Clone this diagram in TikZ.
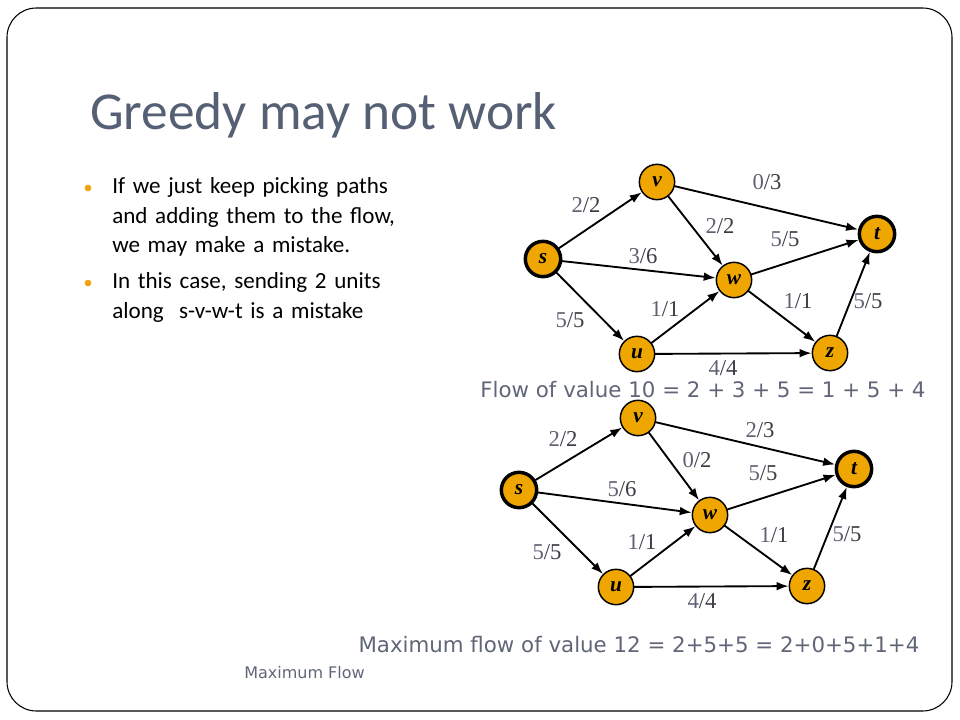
\documentclass[tikz,border=0pt]{standalone}
\usepackage{fontspec}
\setmainfont{Carlito}
\newfontfamily\graphfont{Liberation Serif}
\newfontfamily\flowfont{DejaVu Sans}
\usetikzlibrary {arrows.meta}

\definecolor{titlegray}{RGB}{86,96,117}
\definecolor{nodeorange}{RGB}{240,166,0}
\definecolor{bulletorange}{RGB}{240,163,10}
\definecolor{flowgray}{RGB}{94,98,114}
\definecolor{capgray}{RGB}{60,60,68}
\definecolor{textgray}{RGB}{96,102,120}

\newcommand{\fc}[2]{\textcolor{flowgray}{#1}\textcolor{capgray}{/#2}}

\tikzset{
  vertex/.style = {circle, draw, line width=1.1pt, fill=nodeorange, minimum size=26.5pt, inner sep=0pt,
                   font=\graphfont\bfseries\itshape\fontsize{16}{16}\selectfont},
  terminal/.style = {vertex, line width=2.6pt},
  edge/.style = {line width=1.4pt, -{Latex[length=9pt, width=6.5pt]}},
  flowlabel/.style = {inner sep=0pt, font=\graphfont\fontsize{17}{17}\selectfont},
  bullet/.style = {circle, fill=bulletorange, minimum size=5pt, inner sep=0pt},
  itemtext/.style = {anchor=base west, inner sep=0pt, align=left, text width=240pt,
                     font=\fontsize{17.3}{22}\selectfont},
}

\begin{document}
\begin{tikzpicture}[x=0.75pt, y=-0.75pt, line cap=round]

    \useasboundingbox (0,0) rectangle (960,720);
    \draw[line width=0.8pt, rounded corners=22pt] (7,8) rectangle (952,711);

    \node[anchor=base west, inner sep=0pt, text=titlegray, font=\fontsize{40}{40}\selectfont] (title) at (90,130) {Greedy may not work};

    \node[bullet] (b1) at (88,188) {};
    \node[itemtext] (item1) at (112,194) {If we just keep picking paths\\ and adding them to the flow,\\ we may make a mistake.};
    \node[bullet] (b2) at (88,283) {};
    \node[itemtext] (item2) at (112,289) {In this case, sending 2 units\\ along~ s-v-w-t is a mistake};

    % greedy flow
    \node[terminal] (s1) at (543,259) {s};
    \node[vertex] (v1) at (657,182) {v};
    \node[terminal] (t1) at (877,234) {t};
    \node[vertex] (w1) at (734,280) {w};
    \node[vertex] (u1) at (637,354) {u};
    \node[vertex] (z1) at (830,353) {z};

    \draw[edge] (s1) -- (v1);
    \draw[edge] (v1) -- (t1);
    \draw[edge] (v1) -- (w1);
    \draw[edge] (s1) -- (w1);
    \draw[edge] (w1) -- (t1);
    \draw[edge] (w1) -- (z1);
    \draw[edge] (z1) -- (t1);
    \draw[edge] (u1) -- (w1);
    \draw[edge] (s1) -- (u1);
    \draw[edge] (u1) -- (z1);

    \node[flowlabel] (c11) at (767,182) {\fc{0}{3}};
    \node[flowlabel] (c12) at (586,205) {\fc{2}{2}};
    \node[flowlabel] (c13) at (720,226) {\fc{2}{2}};
    \node[flowlabel] (c14) at (785,239) {\fc{5}{5}};
    \node[flowlabel] (c15) at (643,256) {\fc{3}{6}};
    \node[flowlabel] (c16) at (798,301) {\fc{1}{1}};
    \node[flowlabel] (c17) at (868,301) {\fc{5}{5}};
    \node[flowlabel] (c18) at (665,309) {\fc{1}{1}};
    \node[flowlabel] (c19) at (570,320) {\fc{5}{5}};
    \node[flowlabel] (c10) at (723,368) {\fc{4}{4}};

    \node[text=textgray, font=\flowfont\fontsize{16}{16}\selectfont] (flow1) at (703,390) {Flow of value 10 = 2 + 3 + 5 = 1 + 5 + 4};

    % maximum flow
    \node[terminal] (s2) at (519,490) {s};
    \node[vertex] (v2) at (638,418) {v};
    \node[terminal] (t2) at (854,469) {t};
    \node[vertex] (w2) at (710,515) {w};
    \node[vertex] (u2) at (616,587) {u};
    \node[vertex] (z2) at (807,586) {z};

    \draw[edge] (s2) -- (v2);
    \draw[edge] (v2) -- (t2);
    \draw[edge] (v2) -- (w2);
    \draw[edge] (s2) -- (w2);
    \draw[edge] (w2) -- (t2);
    \draw[edge] (w2) -- (z2);
    \draw[edge] (z2) -- (t2);
    \draw[edge] (u2) -- (w2);
    \draw[edge] (s2) -- (u2);
    \draw[edge] (u2) -- (z2);

    \node[flowlabel] (c21) at (760,430) {\fc{2}{3}};
    \node[flowlabel] (c22) at (563,439) {\fc{2}{2}};
    \node[flowlabel] (c23) at (697,460) {\fc{0}{2}};
    \node[flowlabel] (c24) at (763,473) {\fc{5}{5}};
    \node[flowlabel] (c25) at (622,489) {\fc{5}{6}};
    \node[flowlabel] (c26) at (774,535) {\fc{1}{1}};
    \node[flowlabel] (c27) at (847,534) {\fc{5}{5}};
    \node[flowlabel] (c28) at (642,542) {\fc{1}{1}};
    \node[flowlabel] (c29) at (547,552) {\fc{5}{5}};
    \node[flowlabel] (c20) at (702,601) {\fc{4}{4}};

    \node[text=textgray, font=\flowfont\fontsize{16}{16}\selectfont] (flow2) at (639,645) {Maximum flow of value 12 = 2+5+5 = 2+0+5+1+4};

    \node[anchor=west, inner sep=0pt, text=textgray, font=\flowfont\fontsize{12}{12}\selectfont] (footer) at (244,673) {Maximum Flow};

\end{tikzpicture}
\end{document}
